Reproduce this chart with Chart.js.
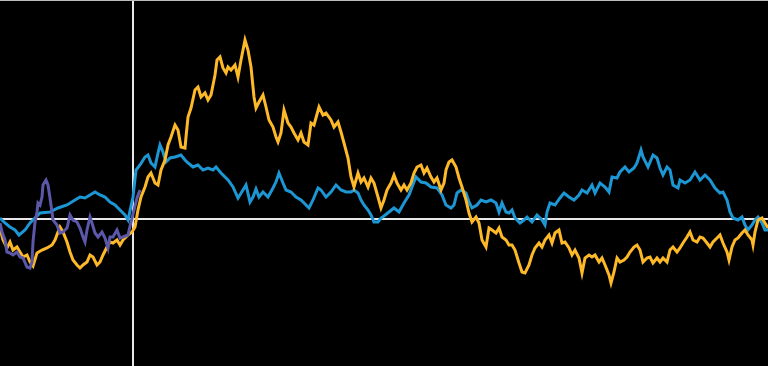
<!DOCTYPE html>
<html>
<head>
<meta charset="utf-8">
<script src="https://cdn.jsdelivr.net/npm/chart.js@4/dist/chart.umd.min.js"></script>
<style>
html,body{margin:0;padding:0;background:#000;}
#wrap{width:768px;height:366px;position:relative;}
</style>
</head>
<body>
<div id="wrap"><canvas id="c" width="768" height="366"></canvas></div>
<script>
// Series values: x = day offset from the reference (0 = vertical marker), y = relative value
const blueX = [-132,-127,-122,-117,-113,-107,-102,-99,-92,-82,-74,-65,-57,-52,-47,-42,-37,-32,-27,-22,-17,-12,-7,-4,1,4,8,13,16,19,23,26,28,31,34,38,43,49,53,56,61,66,71,76,81,84,89,96,101,106,111,114,118,121,124,127,131,136,141,144,147,151,154,159,164,169,174,177,181,186,189,194,199,204,209,214,219,222,226,229,232,236,239,242,246,249,252,257,262,267,272,277,280,284,289,294,299,305,310,314,319,322,325,329,334,337,340,345,349,354,359,364,367,370,374,377,380,383,388,392,395,400,405,410,413,415,418,423,428,432,437,442,447,450,455,460,463,468,473,477,480,485,488,493,497,502,505,509,511,516,521,525,528,531,535,538,541,546,548,553,558,563,568,573,578,583,588,591,595,598,601,606,610,613,616,620,623,626,630,633,636];
const blueY = [1,-4,-8,-11,-16,-11,-4,-1,6,7,11,14,19,22,21,24,27,24,22,17,14,9,4,-1,22,49,54,62,64,56,52,66,74,67,57,61,62,64,59,56,52,54,49,51,49,52,46,39,32,21,29,34,17,22,30,22,27,22,31,37,46,36,29,27,22,19,14,11,19,31,29,22,27,34,29,27,27,29,26,19,14,9,4,-3,-3,1,3,7,11,7,16,24,32,42,37,36,32,31,24,14,11,14,26,29,26,17,11,14,19,17,19,16,7,16,7,6,9,1,-4,-1,2,-3,4,-1,-6,7,16,14,21,26,22,19,24,29,26,34,26,36,32,27,42,41,47,52,47,51,56,69,62,52,64,61,51,44,52,49,34,31,39,36,39,47,39,44,39,31,26,27,19,7,1,-1,2,-6,-11,-6,-1,2,-4,-11,-11];

const yellowX = [-132,-129,-125,-122,-119,-115,-112,-109,-105,-102,-99,-95,-90,-85,-80,-77,-74,-72,-69,-65,-62,-59,-55,-52,-49,-45,-42,-39,-35,-32,-29,-25,-22,-19,-15,-12,-9,-4,0,3,6,9,13,16,19,23,26,29,33,36,39,43,46,49,53,54,56,59,63,66,69,73,76,79,83,85,88,91,94,96,99,103,106,109,113,116,119,122,124,127,131,134,137,141,144,146,149,152,156,159,162,166,169,172,176,179,182,187,191,194,199,202,206,209,212,216,219,222,226,229,232,236,239,242,246,249,252,255,259,262,265,269,272,275,279,282,285,289,292,295,299,302,305,309,312,314,317,320,324,327,330,334,337,340,344,347,350,354,357,360,364,367,370,374,377,380,383,387,390,393,397,400,403,407,410,413,417,420,423,427,430,433,437,440,443,447,450,453,457,460,463,467,470,473,477,479,482,485,488,492,495,498,502,505,508,511,515,518,521,525,528,531,535,538,541,545,548,551,555,558,561,565,568,571,575,578,581,585,588,591,595,597,600,603,606,610,613,616,620,621,623,626,630,633,636];
const yellowY = [-9,-21,-29,-23,-31,-28,-33,-38,-36,-43,-47,-34,-31,-29,-26,-21,-13,-8,-13,-23,-33,-41,-46,-49,-46,-43,-36,-38,-46,-43,-36,-28,-23,-24,-21,-26,-21,-16,-13,-8,9,22,32,42,46,36,34,49,59,74,82,94,89,72,71,82,102,111,129,132,122,126,119,124,144,159,162,151,146,152,149,154,142,159,179,169,152,122,111,117,124,112,99,92,82,77,86,109,96,92,86,79,86,77,74,96,94,112,104,106,99,92,97,87,76,61,42,32,46,37,41,32,41,36,22,11,19,29,36,44,36,29,34,29,36,46,52,54,46,51,42,37,41,29,36,49,57,59,52,41,32,19,6,-3,2,-4,-21,-28,-9,-11,-14,-9,-18,-21,-26,-26,-31,-44,-53,-54,-46,-36,-29,-24,-28,-21,-16,-24,-14,-11,-24,-23,-29,-36,-31,-39,-54,-39,-36,-38,-36,-43,-39,-46,-56,-64,-53,-39,-43,-41,-38,-33,-28,-26,-31,-43,-39,-38,-44,-39,-43,-39,-43,-31,-28,-33,-29,-24,-18,-13,-21,-23,-18,-19,-24,-28,-23,-19,-16,-24,-33,-41,-28,-21,-19,-14,-11,-16,-21,-26,-13,-1,1,-4,-9];

const purpleX = [-132,-130,-127,-125,-122,-119,-115,-112,-109,-105,-102,-100,-99,-97,-95,-94,-92,-90,-89,-86,-84,-82,-80,-79,-75,-72,-69,-65,-62,-59,-55,-52,-49,-47,-45,-42,-40,-37,-34,-30,-27,-24,-22,-19,-15,-12,-9,-4,-1,2,5,8];
const purpleY = [-4,-13,-21,-33,-34,-36,-33,-38,-39,-48,-49,-43,-23,-3,7,16,14,22,34,39,34,21,7,-1,-6,-14,-13,-9,4,-1,-3,-9,-18,-23,-11,2,-4,-14,-18,-13,-19,-29,-18,-18,-11,-19,-18,-16,-3,9,21,29];

const xRange = [-132, 636];
const yRange = [-147, 219];

function pts(xs, ys){ return xs.map((x,i)=>({x:x, y:ys[i]})); }

const framePlugin = {
  id: 'frame',
  beforeDraw(chart){
    const c = chart.ctx;
    c.save();
    c.fillStyle = '#000';
    c.fillRect(0,0,chart.width,chart.height);
    c.restore();
  },
  beforeDatasetsDraw(chart){
    const c = chart.ctx, xs = chart.scales.x, ys = chart.scales.y, a = chart.chartArea;
    c.save();
    c.strokeStyle = '#e8e8e8';
    c.lineWidth = 2;
    const y0 = Math.round(ys.getPixelForValue(0));
    c.beginPath(); c.moveTo(a.left, y0); c.lineTo(a.right, y0); c.stroke();
    const x0 = Math.round(xs.getPixelForValue(0)) + 1;
    c.beginPath(); c.moveTo(x0, a.top); c.lineTo(x0, a.bottom); c.stroke();
    c.strokeStyle = '#bdbdbd';
    c.lineWidth = 1;
    c.beginPath(); c.moveTo(a.left, 0.5); c.lineTo(a.right, 0.5); c.stroke();
    c.restore();
  }
};

new Chart(document.getElementById('c'), {
  type: 'line',
  data: {
    datasets: [
      { label: 'Purple', data: pts(purpleX, purpleY), borderColor: '#5b57a9', borderWidth: 3, pointRadius: 0, tension: 0, fill: false },
      { label: 'Yellow', data: pts(yellowX, yellowY), borderColor: '#fdb927', borderWidth: 3, pointRadius: 0, tension: 0, fill: false },
      { label: 'Blue', data: pts(blueX, blueY), borderColor: '#1d96d4', borderWidth: 3, pointRadius: 0, tension: 0, fill: false }
    ]
  },
  options: {
    responsive: false,
    animation: false,
    parsing: true,
    layout: { padding: 0 },
    plugins: { legend: { display: false }, tooltip: { enabled: false } },
    scales: {
      x: { type: 'linear', min: xRange[0], max: xRange[1], display: false },
      y: { type: 'linear', min: yRange[0], max: yRange[1], display: false }
    }
  },
  plugins: [framePlugin]
});
</script>
</body>
</html>
